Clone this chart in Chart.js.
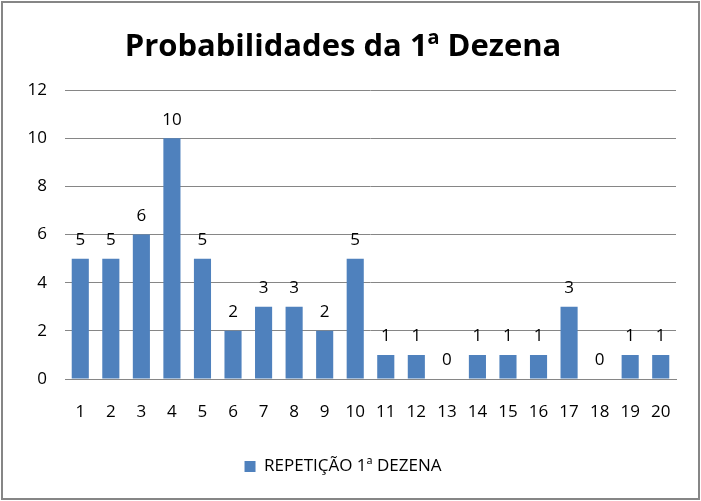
<!DOCTYPE html>
<html lang="pt">
<head>
<meta charset="UTF-8">
<title>Probabilidades da 1ª Dezena</title>
<script src="https://cdn.jsdelivr.net/npm/chart.js"></script>
<style>
  html, body { margin: 0; padding: 0; background: #fff; }
  #wrap { position: relative; width: 701px; height: 501px; }
</style>
</head>
<body>
<div id="wrap"><canvas id="grafico" width="701" height="501"></canvas></div>
<script>
const dezenas = ['1','2','3','4','5','6','7','8','9','10','11','12','13','14','15','16','17','18','19','20'];
const repeticoes = [5, 5, 6, 10, 5, 2, 3, 3, 2, 5, 1, 1, 0, 1, 1, 1, 3, 0, 1, 1];
const tituloGrafico = 'Probabilidades da 1ª Dezena';
const nomeSerie = 'REPETIÇÃO 1ª DEZENA';

const fonte = "'Open Sans', 'DejaVu Sans', sans-serif";

// moldura cinza e fundo branco
const moldura = {
  id: 'moldura',
  beforeDraw(chart) {
    const c = chart.ctx;
    c.save();
    c.fillStyle = '#fff';
    c.fillRect(0, 0, chart.width, chart.height);
    c.strokeStyle = '#868686';
    c.lineWidth = 2;
    c.strokeRect(2, 2, chart.width - 4, chart.height - 4);
    c.restore();
  }
};

// valores em cima das barras
const rotulos = {
  id: 'rotulos',
  afterDatasetsDraw(chart) {
    const c = chart.ctx;
    const meta = chart.getDatasetMeta(0);
    c.save();
    c.font = '17px ' + fonte;
    c.fillStyle = '#000';
    c.textAlign = 'center';
    c.textBaseline = 'bottom';
    meta.data.forEach(function (bar, i) {
      c.fillText(String(repeticoes[i]), bar.x, bar.y - 10);
    });
    c.restore();
  }
};

new Chart(document.getElementById('grafico'), {
  type: 'bar',
  data: {
    labels: dezenas,
    datasets: [{
      label: nomeSerie,
      data: repeticoes,
      backgroundColor: '#4F81BD',
      borderWidth: 0,
      barPercentage: 0.56,
      categoryPercentage: 1
    }]
  },
  options: {
    responsive: false,
    animation: false,
    layout: { padding: { left: 10, right: 25, top: 29, bottom: 16 } },
    plugins: {
      title: {
        display: true,
        text: tituloGrafico,
        color: '#000',
        font: { family: fonte, size: 31, weight: 'bold' },
        padding: { top: 0, bottom: 24 }
      },
      legend: {
        position: 'bottom',
        labels: {
          color: '#000',
          font: { family: fonte, size: 17 },
          boxWidth: 11,
          boxHeight: 11,
          padding: 10
        }
      },
      tooltip: { enabled: false }
    },
    scales: {
      x: {
        grid: { display: false },
        border: { color: '#868686' },
        ticks: { color: '#000', font: { family: fonte, size: 17 }, padding: 15 },
        afterFit(scale) { scale.height = 69; }
      },
      y: {
        min: 0,
        max: 12,
        ticks: { stepSize: 2, color: '#000', font: { family: fonte, size: 17 }, padding: 18 },
        grid: { color: '#868686', drawTicks: false },
        border: { display: false },
        afterFit(scale) { scale.width = 55; }
      }
    }
  },
  plugins: [moldura, rotulos]
});
</script>
</body>
</html>
